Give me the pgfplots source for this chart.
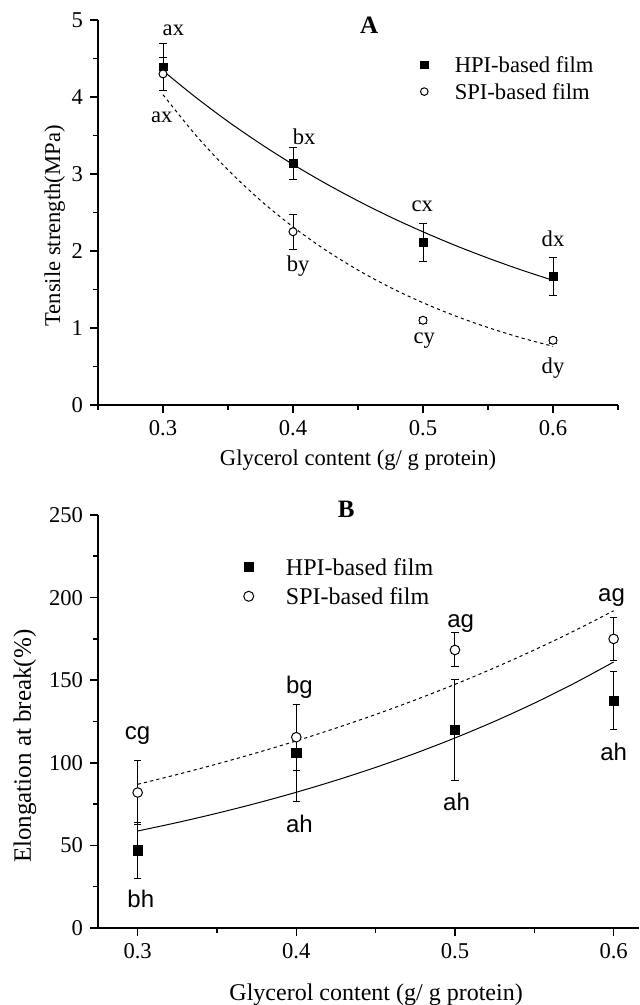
\documentclass[border=0pt]{standalone}
\usepackage{fontspec}
\setmainfont{Liberation Serif}
\newfontfamily\arialfont{Liberation Sans}
\usepackage{pgfplots}
\pgfplotsset{compat=1.18}

\newcommand{\lbl}{\fontsize{11.3}{13}\selectfont}

\pgfplotsset{
  panel/.style={
    scale only axis, axis lines=left,
    axis line style={-, line width=0.8pt},
    tick align=outside, major tick length=4pt, minor tick length=2.5pt,
    every tick/.style={black, line width=0.8pt},
    tick label style={font=\lbl},
    /pgf/number format/assume math mode=true,
    clip=false,
  },
  hpi/.style={black, only marks, mark=square*, mark size=#1,
    error bars/.cd, y dir=both, y explicit,
    error bar style={line width=0.5pt},
    error mark options={rotate=90, mark size=1.8pt, line width=0.5pt}},
  spi/.style={black, only marks, mark=*, mark size=#1,
    mark options={fill=white, line width=0.5pt},
    error bars/.cd, y dir=both, y explicit,
    error bar style={line width=0.5pt},
    error mark options={rotate=90, mark size=1.8pt, line width=0.5pt}},
  fitline/.style={black, line width=0.5pt, smooth, no marks},
  fitdash/.style={black, line width=0.5pt, smooth, no marks, dash pattern=on 1.6pt off 1.6pt},
}

\begin{document}
\begin{tikzpicture}
\path[use as bounding box] (0,0) rectangle (319.5pt,502.5pt);

% ---- A: tensile strength ----
\begin{axis}[panel,
  at={(49pt,300pt)}, anchor=south west,
  width=260pt, height=192.5pt,
  xmin=0.25, xmax=0.65, ymin=0, ymax=5,
  xtick={0.3,0.4,0.5,0.6}, minor xtick={0.25,0.35,0.45,0.55,0.65},
  ytick={0,1,2,3,4,5}, minor ytick={0.5,1.5,2.5,3.5,4.5},
  xlabel={Glycerol content (g/ g protein)},
  ylabel={Tensile strength(MPa)},
  every axis x label/.style={at={(axis description cs:0.5,-0.143)}, anchor=center, font=\lbl},
  every axis y label/.style={at={(axis description cs:-0.083,0.465)}, rotate=90, anchor=center, font=\lbl},
]
% fitted curves
\addplot[fitline] coordinates {(0.300,4.340) (0.325,3.998) (0.350,3.682) (0.375,3.392) (0.400,3.124) (0.425,2.878) (0.450,2.651) (0.475,2.441) (0.500,2.249) (0.525,2.071) (0.550,1.908) (0.575,1.757) (0.600,1.619)};
\addplot[fitdash] coordinates {(0.300,4.030) (0.325,3.508) (0.350,3.053) (0.375,2.657) (0.400,2.313) (0.425,2.013) (0.450,1.752) (0.475,1.525) (0.500,1.328) (0.525,1.156) (0.550,1.006) (0.575,0.875) (0.600,0.762)};
\addplot[hpi=1.95pt] coordinates {(0.3,4.39) +- (0,0.31) (0.4,3.14) +- (0,0.21) (0.5,2.11) +- (0,0.25) (0.6,1.67) +- (0,0.25)};
\addplot[spi=2.0pt] coordinates {(0.3,4.30) +- (0,0.21) (0.4,2.25) +- (0,0.23) (0.5,1.10) +- (0,0.04) (0.6,0.84) +- (0,0.04)};
% legend
\addplot[black, only marks, mark=square*, mark size=1.85pt] coordinates {(0.501,4.415)};
\addplot[black, only marks, mark=*, mark size=1.9pt, mark options={fill=white, line width=0.5pt}] coordinates {(0.501,4.07)};
\node[anchor=west, font=\lbl] at (axis cs:0.519,4.415) {HPI-based film};
\node[anchor=west, font=\lbl] at (axis cs:0.519,4.07) {SPI-based film};
\node[font=\fontsize{12.5}{14}\selectfont\bfseries] at (axis cs:0.4585,4.935) {A};
% letters
\node[font=\lbl] at (axis cs:0.308,4.87) {ax};
\node[font=\lbl] at (axis cs:0.299,3.74) {ax};
\node[font=\lbl] at (axis cs:0.4085,3.48) {bx};
\node[font=\lbl] at (axis cs:0.404,1.80) {by};
\node[font=\lbl] at (axis cs:0.4995,2.58) {cx};
\node[font=\lbl] at (axis cs:0.501,0.84) {cy};
\node[font=\lbl] at (axis cs:0.600,2.16) {dx};
\node[font=\lbl] at (axis cs:0.600,0.48) {dy};
\end{axis}

% ---- B: elongation at break ----
\begin{axis}[panel,
  at={(49pt,38.5pt)}, anchor=south west,
  width=270.5pt, height=206.5pt,
  xmin=0.275, xmax=0.616, ymin=0, ymax=250,
  xtick={0.3,0.4,0.5,0.6}, minor xtick={0.35,0.45,0.55},
  ytick={0,50,100,150,200,250}, minor ytick={25,75,125,175,225},
  xlabel={Glycerol content (g/ g protein)},
  ylabel={Elongation at break(\%)},
  every axis x label/.style={at={(axis description cs:0.514,-0.162)}, anchor=center, font=\fontsize{12}{14}\selectfont},
  every axis y label/.style={at={(axis description cs:-0.135,0.44)}, rotate=90, anchor=center, font=\fontsize{12.5}{14}\selectfont},
]
\addplot[fitline] coordinates {(0.300,58.70) (0.325,63.85) (0.350,69.45) (0.375,75.54) (0.400,82.17) (0.425,89.38) (0.450,97.22) (0.475,105.75) (0.500,115.03) (0.525,125.11) (0.550,136.09) (0.575,148.03) (0.600,161.01)};
\addplot[fitdash] coordinates {(0.300,87.00) (0.325,92.93) (0.350,99.27) (0.375,106.04) (0.400,113.27) (0.425,121.00) (0.450,129.25) (0.475,138.07) (0.500,147.48) (0.525,157.54) (0.550,168.29) (0.575,179.77) (0.600,192.03)};
\addplot[hpi=2.3pt] coordinates {(0.3,47.0) +- (0,17.0) (0.4,106.0) +- (0,29.5) (0.5,120.0) +- (0,30.5) (0.6,137.7) +- (0,17.5)};
\addplot[spi=2.4pt] coordinates {(0.3,82.0) +- (0,19.5) (0.4,115.5) +- (0,20.0) (0.5,168.3) +- (0,10.3) (0.6,175.0) +- (0,13.0)};
% legend
\addplot[black, only marks, mark=square*, mark size=2.4pt] coordinates {(0.370,218.5)};
\addplot[black, only marks, mark=*, mark size=2.5pt, mark options={fill=white, line width=0.5pt}] coordinates {(0.370,200.8)};
\node[anchor=west, font=\fontsize{12}{14}\selectfont] at (axis cs:0.389,218.5) {HPI-based film};
\node[anchor=west, font=\fontsize{12}{14}\selectfont] at (axis cs:0.389,200.8) {SPI-based film};
\node[font=\fontsize{12.5}{14}\selectfont\bfseries] at (axis cs:0.4315,253.3) {B};
% letters
\node[font=\arialfont\fontsize{12}{14}\selectfont] at (axis cs:0.300,116.5) {cg};
\node[font=\arialfont\fontsize{12}{14}\selectfont] at (axis cs:0.302,17.7) {bh};
\node[font=\arialfont\fontsize{12}{14}\selectfont] at (axis cs:0.402,145.8) {bg};
\node[font=\arialfont\fontsize{12}{14}\selectfont] at (axis cs:0.402,63.1) {ah};
\node[font=\arialfont\fontsize{12}{14}\selectfont] at (axis cs:0.5036,184.1) {ag};
\node[font=\arialfont\fontsize{12}{14}\selectfont] at (axis cs:0.501,76.2) {ah};
\node[font=\arialfont\fontsize{12}{14}\selectfont] at (axis cs:0.5987,200.2) {ag};
\node[font=\arialfont\fontsize{12}{14}\selectfont] at (axis cs:0.600,106.5) {ah};
\end{axis}
\end{tikzpicture}
\end{document}
